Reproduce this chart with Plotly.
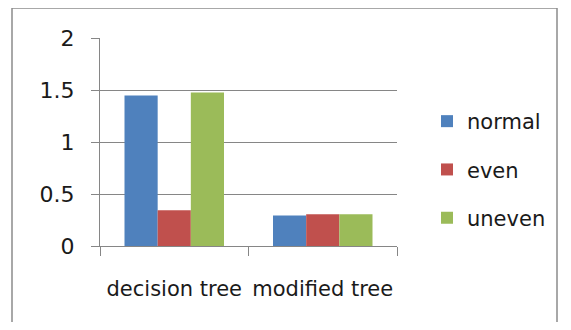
import plotly.graph_objects as go

categories = ["decision tree", "modified tree"]
series_names = ["normal", "even", "uneven"]
normal = [1.45, 0.295]
even = [0.345, 0.307]
uneven = [1.48, 0.307]
y_ticks = [0, 0.5, 1, 1.5, 2]
y_tick_labels = ["0", "0.5", "1", "1.5", "2"]

colors = ["#4F81BD", "#C0504D", "#9BBB59"]
OFF = 8  # page body margin offset
W, H = 571 - OFF, 330 - 2 * OFF
L, R, T, B = 100 - OFF, 397 - OFF, 38 - OFF, 246 - OFF

fig = go.Figure()
for i, (name, vals) in enumerate(zip(series_names, [normal, even, uneven])):
    fig.add_trace(go.Bar(
        x=categories, y=vals, name=name, legendgroup=name,
        marker=dict(color=colors[i], line=dict(width=0)),
    ))

pw = R - L
ph = B - T
def px(x):
    return (x - OFF - L) / pw
def py(y):
    return (B - (y - OFF)) / ph

FONT = "DejaVu Sans, Liberation Sans, sans-serif"
fig.update_layout(
    width=W, height=H,
    margin=dict(l=L, r=W - R, t=T, b=H - B, pad=0, autoexpand=False),
    paper_bgcolor="white", plot_bgcolor="white",
    barmode="group", bargap=0.33, bargroupgap=0,
    font=dict(family=FONT, size=21, color="#1a1a1a"),
    showlegend=True,
    legend=dict(x=px(427), y=py(101), xanchor="left", yanchor="top",
                font=dict(size=21), tracegroupgap=18,
                bgcolor="rgba(0,0,0,0)"),
    xaxis=dict(showgrid=False, showline=True, linecolor="#868686", linewidth=1,
               ticks="outside", tickson="boundaries", ticklen=9, tickcolor="#868686",
               tickfont=dict(size=21), tickangle=0, ticklabelstandoff=24,
               fixedrange=True, automargin=False),
    yaxis=dict(range=[0, 2.004], tickvals=y_ticks, ticktext=y_tick_labels,
               showgrid=True, gridcolor="#868686", gridwidth=1,
               showline=True, linecolor="#868686", linewidth=1,
               ticks="outside", ticklen=8, tickcolor="#868686",
               tickfont=dict(size=22), ticklabelstandoff=12, zeroline=False,
               automargin=False),
    shapes=[dict(type="rect", xref="paper", yref="paper",
                 x0=px(12), x1=px(557), y0=py(345), y1=py(8),
                 line=dict(color="#8C8C8C", width=1.5), fillcolor="rgba(0,0,0,0)",
                 layer="below")],
)

fig.write_html("out.html")
